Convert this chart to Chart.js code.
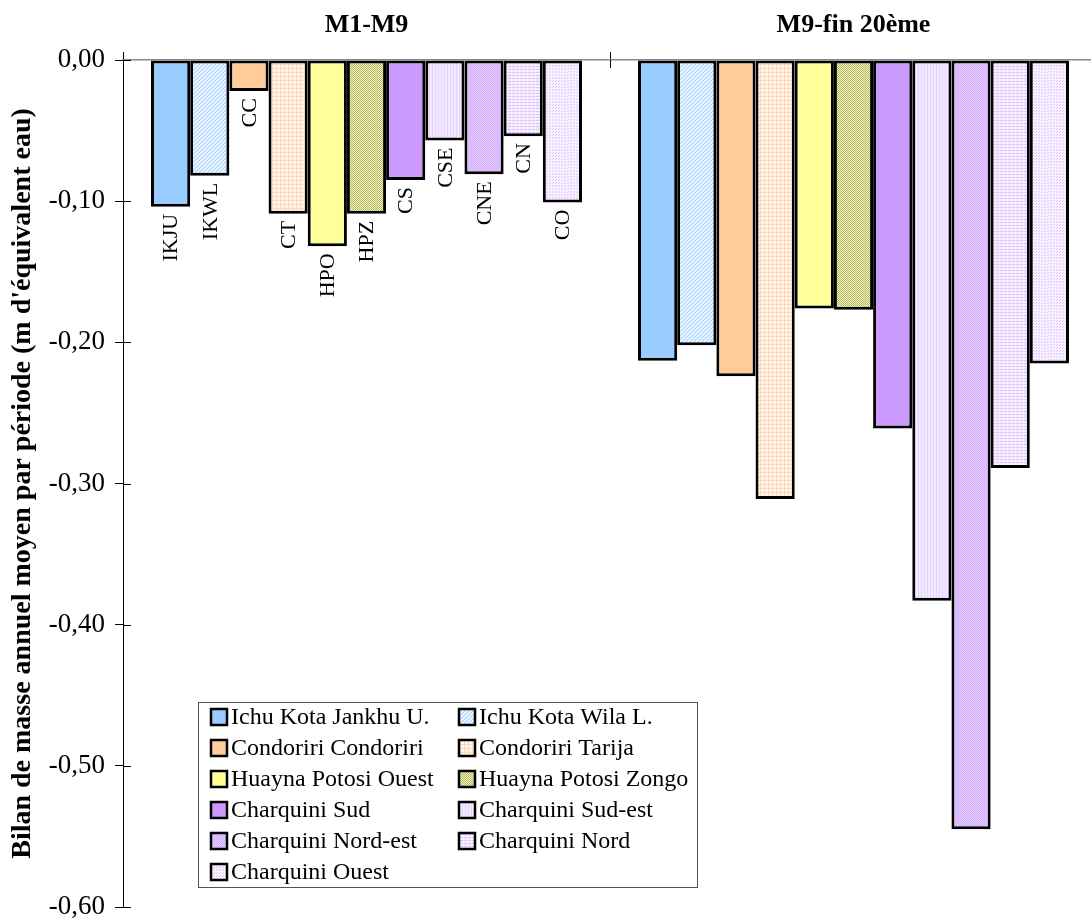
<!DOCTYPE html>
<html lang="fr">
<head>
<meta charset="utf-8">
<title>Bilan de masse annuel moyen par période</title>
<script src="https://cdn.jsdelivr.net/npm/chart.js@4.4.1/dist/chart.umd.min.js"></script>
<style>
html, body { margin: 0; padding: 0; background: #fff; overflow: hidden; }
#cadre { position: relative; width: 1097px; height: 921px; }
</style>
</head>
<body>
<div id="cadre"><canvas id="graficoBilan"></canvas></div>
<script>
// ======================================
// DONNEES
// ======================================

const periodes = ["M1-M9", "M9-fin 20ème"];

const glaciers = [
  "Ichu Kota Jankhu U.", "Ichu Kota Wila L.",
  "Condoriri Condoriri", "Condoriri Tarija",
  "Huayna Potosi Ouest", "Huayna Potosi Zongo",
  "Charquini Sud", "Charquini Sud-est",
  "Charquini Nord-est", "Charquini Nord",
  "Charquini Ouest"
];

const codes = ["IKJU", "IKWL", "CC", "CT", "HPO", "HPZ", "CS", "CSE", "CNE", "CN", "CO"];

const bilanM1M9  = [-0.104, -0.082, -0.022, -0.109, -0.132, -0.109, -0.085, -0.057, -0.081, -0.054, -0.101];
const bilanM9Fin = [-0.213, -0.202, -0.224, -0.311, -0.176, -0.177, -0.261, -0.383, -0.545, -0.289, -0.215];

const TIMES = '"Liberation Serif", "Times New Roman", serif';

// ======================================
// MOTIFS DE REMPLISSAGE
// ======================================

function motif(w, h, dessin) {
  const c = document.createElement("canvas");
  c.width = w; c.height = h;
  const g = c.getContext("2d");
  dessin(g);
  return document.createElement("canvas").getContext("2d").createPattern(c, "repeat");
}

function px(g, couleur, pts) {
  g.fillStyle = couleur;
  pts.forEach(p => g.fillRect(p[0], p[1], 1, 1));
}

const remplissages = [
  "#99ccff",
  motif(4, 4, g => { g.fillStyle = "#eef6ff"; g.fillRect(0, 0, 4, 4); px(g, "#a6d2ff", [[0,3],[1,2],[2,1],[3,0]]); px(g, "#d0e7ff", [[0,2],[1,1],[2,0],[3,3]]); }),
  "#ffcc99",
  motif(4, 4, g => { g.fillStyle = "#fff6ee"; g.fillRect(0, 0, 4, 4); g.fillStyle = "#ffd9b6"; g.fillRect(0, 0, 4, 1); g.fillRect(0, 0, 1, 4); }),
  "#ffff99",
  motif(2, 2, g => { g.fillStyle = "#f6f69c"; g.fillRect(0, 0, 2, 2); px(g, "#b4b488", [[0,0],[1,1]]); }),
  "#cc99ff",
  motif(3, 1, g => { g.fillStyle = "#f3eaff"; g.fillRect(0, 0, 3, 1); px(g, "#e4d3ff", [[0,0]]); }),
  motif(2, 2, g => { g.fillStyle = "#e2caff"; g.fillRect(0, 0, 2, 2); px(g, "#d4b0ff", [[0,0],[1,1]]); }),
  motif(4, 3, g => { g.fillStyle = "#f6eeff"; g.fillRect(0, 0, 4, 3); g.fillStyle = "#dcbeff"; g.fillRect(0, 0, 3, 1); }),
  motif(3, 3, g => { g.fillStyle = "#f8f2ff"; g.fillRect(0, 0, 3, 3); px(g, "#dcc2ff", [[0,0],[1,2]]); })
];

// ======================================
// PLUGINS
// ======================================

// codes sous les barres de la premiere periode
const codesPlugin = {
  id: "codes",
  afterDatasetsDraw(chart) {
    const ctx = chart.ctx;
    ctx.save();
    ctx.font = "22px " + TIMES;
    ctx.fillStyle = "#000";
    ctx.textAlign = "right";
    ctx.textBaseline = "middle";
    chart.data.datasets.forEach((ds, i) => {
      const barre = chart.getDatasetMeta(i).data[0];
      ctx.save();
      ctx.translate(barre.x, barre.y + 7);
      ctx.rotate(-Math.PI / 2);
      ctx.fillText(codes[i], 0, 1);
      ctx.restore();
    });
    ctx.restore();
  }
};

// petites graduations cote interieur
const graduationsPlugin = {
  id: "graduations",
  afterDraw(chart) {
    const ctx = chart.ctx;
    const y = chart.scales.y, x = chart.scales.x;
    ctx.save();
    ctx.strokeStyle = "#000";
    ctx.lineWidth = 1;
    ctx.beginPath();
    y.ticks.forEach((t, i) => {
      const py = Math.round(y.getPixelForTick(i)) + 0.5;
      ctx.moveTo(y.right, py);
      ctx.lineTo(y.right + 8, py);
    });
    const milieu = Math.round((x.getPixelForTick(0) + x.getPixelForTick(1)) / 2) + 0.5;
    ctx.moveTo(milieu, x.bottom);
    ctx.lineTo(milieu, x.bottom + 8);
    ctx.stroke();
    ctx.restore();
  }
};

const legendePlugin = {
  id: "legende",
  afterDraw(chart) {
    const ctx = chart.ctx;
    const x0 = 198, y0 = 702, w = 499, h = 185;
    ctx.save();
    ctx.fillStyle = "#fff";
    ctx.fillRect(x0, y0, w, h);
    ctx.strokeStyle = "#555";
    ctx.lineWidth = 1;
    ctx.strokeRect(x0 + 0.5, y0 + 0.5, w, h);
    ctx.font = "24px " + TIMES;
    ctx.textBaseline = "middle";
    chart.data.datasets.forEach((ds, i) => {
      const sx = x0 + 13 + (i % 2) * 248;
      const sy = y0 + 15 + Math.floor(i / 2) * 31;
      ctx.fillStyle = ds.backgroundColor;
      ctx.fillRect(sx, sy - 8, 16, 16);
      ctx.strokeStyle = "#000";
      ctx.lineWidth = 2.5;
      ctx.strokeRect(sx, sy - 8, 16, 16);
      ctx.fillStyle = "#000";
      ctx.fillText(ds.label, sx + 20, sy + 1);
    });
    ctx.restore();
  }
};

// ======================================
// GRAPHIQUE
// ======================================

const datasets = glaciers.map((nom, i) => ({
  label: nom,
  data: [bilanM1M9[i], bilanM9Fin[i]],
  backgroundColor: remplissages[i],
  borderColor: "#000",
  borderWidth: 3,
  borderSkipped: false
}));

new Chart(document.getElementById("graficoBilan"), {
  type: "bar",
  data: { labels: periodes, datasets: datasets },
  plugins: [codesPlugin, graduationsPlugin, legendePlugin],
  options: {
    responsive: true,
    maintainAspectRatio: false,
    animation: false,
    layout: { padding: { top: 0, right: 0, bottom: 14, left: 0 } },
    datasets: { bar: { categoryPercentage: 0.885, barPercentage: 1.0 } },
    plugins: { legend: { display: false }, tooltip: { enabled: false } },
    scales: {
      x: {
        position: "top",
        afterFit: s => { s.height = 60; s.paddingLeft = 0; s.paddingRight = 0; },
        grid: { drawOnChartArea: false, tickLength: 8, color: "#000" },
        border: { color: "#888", width: 1.5 },
        ticks: { padding: 11, color: "#000", font: { family: TIMES, size: 26, weight: "bold" } }
      },
      y: {
        min: -0.6,
        max: 0,
        afterFit: s => { s.width = 123; s.paddingTop = 0; s.paddingBottom = 0; },
        grid: { drawOnChartArea: false, tickLength: 8, color: "#000" },
        border: { color: "#000", width: 1 },
        ticks: {
          stepSize: 0.1,
          padding: 10,
          color: "#000",
          font: { family: TIMES, size: 27 },
          callback: v => v.toFixed(2).replace(".", ",")
        },
        title: {
          display: true,
          text: "Bilan de masse annuel moyen par période (m d'équivalent eau)",
          color: "#000",
          font: { family: TIMES, size: 28, weight: "bold" },
          padding: { top: 6, bottom: 0 }
        }
      }
    }
  }
});
</script>
</body>
</html>
